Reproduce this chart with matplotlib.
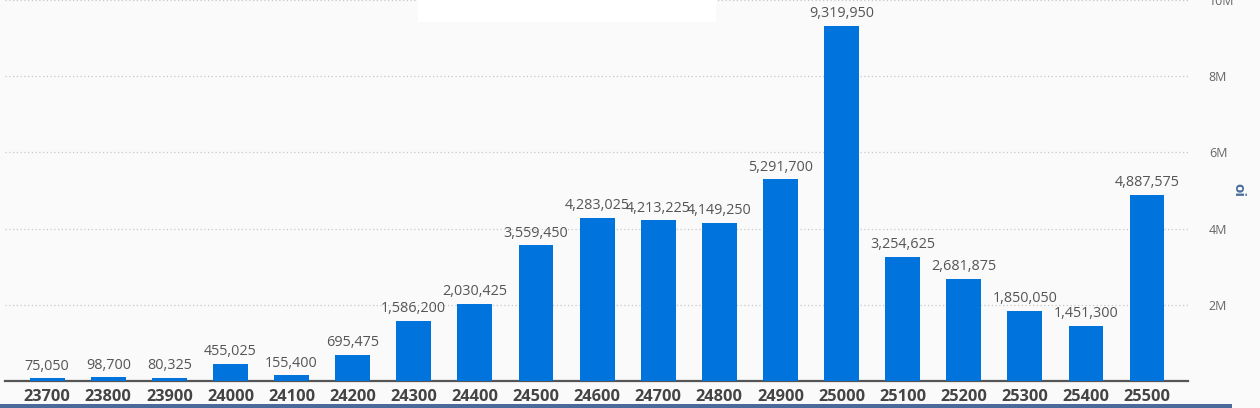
import matplotlib
matplotlib.use("Agg")
import matplotlib.pyplot as plt
from matplotlib.patches import Rectangle
from matplotlib.ticker import FuncFormatter

strikes = ["23700", "23800", "23900", "24000", "24100", "24200", "24300", "24400",
           "24500", "24600", "24700", "24800", "24900", "25000", "25100", "25200",
           "25300", "25400", "25500"]
oi = [75050, 98700, 80325, 455025, 155400, 695475, 1586200, 2030425,
      3559450, 4283025, 4213225, 4149250, 5291700, 9319950, 3254625, 2681875,
      1850050, 1451300, 4887575]
y_ticks = [2e6, 4e6, 6e6, 8e6, 10e6]

plt.rcParams['font.family'] = ['Open Sans', 'DejaVu Sans']

W, H = 1260, 408
fig = plt.figure(figsize=(W / 100, H / 100), dpi=100)
fig.patch.set_facecolor('#fafafa')

ax = fig.add_axes([5 / W, 27 / H, (1188 - 5) / W, (381 - 0) / H])
ax.set_facecolor('#fafafa')

x = list(range(len(strikes)))
ax.bar(x, oi, width=0.57, color='#0073dc', zorder=3)

for xi, v in zip(x, oi):
    ax.text(xi, v + 0.12e6, f"{v:,}", ha='center', va='bottom',
            fontsize=10.4, color='#555555', zorder=4)

ax.set_xlim(-0.69, 18.67)
ax.set_ylim(0, 10e6)
ax.set_xticks(x)
ax.set_xticklabels(strikes, fontsize=11.8, fontweight='bold', color='#444444')
ax.tick_params(axis='x', length=0, pad=6)

ax.yaxis.tick_right()
ax.set_yticks(y_ticks)
ax.yaxis.set_major_formatter(FuncFormatter(lambda v, p: f"{int(v / 1e6)}M"))
ax.tick_params(axis='y', length=0, pad=15, labelsize=9, labelcolor='#666666')
ax.set_ylabel('oi', fontsize=11, fontweight='bold', color='#4a6f9a', rotation=270,
              va='center', ha='center')
ax.yaxis.set_label_coords(1.043, 0.5)

ax.grid(axis='y', linestyle=(0, (1, 2)), color='#c8c8c8', linewidth=0.9, zorder=0)
for s in ['top', 'right', 'left']:
    ax.spines[s].set_visible(False)
ax.spines['bottom'].set_color('#555555')
ax.spines['bottom'].set_linewidth(1.6)

# decorative elements
fig.patches.append(Rectangle((418 / W, 1 - 22 / H), (716 - 418) / W, 22 / H,
                             transform=fig.transFigure, facecolor='white',
                             edgecolor='none', zorder=0))
fig.patches.append(Rectangle((0, 0), 1232 / W, 4 / H, transform=fig.transFigure,
                             facecolor='#4a6a9a', edgecolor='none', zorder=0))

fig.savefig('out.png', dpi=100, facecolor=fig.get_facecolor())
